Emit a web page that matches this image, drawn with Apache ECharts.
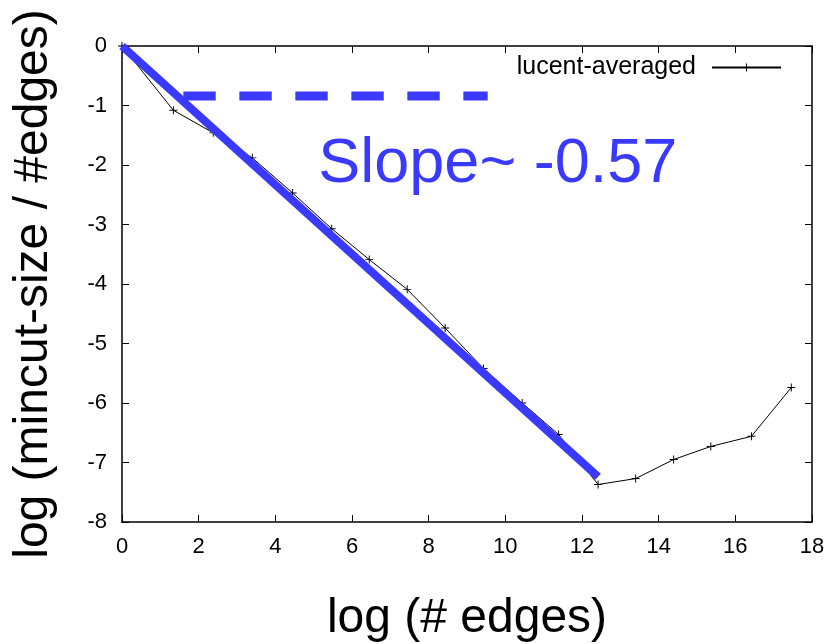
<!DOCTYPE html>
<html>
<head>
<meta charset="utf-8">
<script src="https://cdn.jsdelivr.net/npm/echarts@6/dist/echarts.min.js"></script>
<style>
  html, body { margin: 0; padding: 0; background: #ffffff; }
  #chart { width: 827px; height: 644px; }
</style>
</head>
<body>
<div id="chart"></div>
<script>
// log(# edges) vs log(mincut-size / #edges), averaged over the lucent graph
const edgesLog = [0, 1.34, 2.38, 3.40, 4.45, 5.47, 6.45, 7.44, 8.43, 9.43, 10.44, 11.39, 12.42, 13.40, 14.39, 15.36, 16.42, 17.46];
const ratioLog = [0, -1.08, -1.46, -1.88, -2.47, -3.07, -3.59, -4.09, -4.74, -5.42, -6.00, -6.53, -7.37, -7.27, -6.95, -6.73, -6.56, -5.74];

// fitted power-law line and the dashed reference bar above it
const fitX = [0, 12.42];
const fitY = [0, -7.24];
const refX = [1.60, 9.54];
const refY = [-0.84, -0.84];

// axis ticks
const xTicks = [0, 2, 4, 6, 8, 10, 12, 14, 16, 18];
const yTicks = [-8, -7, -6, -5, -4, -3, -2, -1, 0];

const seriesName = 'lucent-averaged';
const slopeText = 'Slope~ -0.57';
const slopeAnchor = [5.12, -1.99];

const BLUE = '#3a3aff';
const FONT = '"Liberation Sans", Arial, Helvetica, sans-serif';
const PLUS = 'path://M4.4,0h1.2v4.4h4.4v1.2h-4.4v4.4h-1.2v-4.4h-4.4v-1.2h4.4z';

const zip = (xs, ys) => xs.map((x, i) => [x, ys[i]]);

const axisLineStyle = { show: true, onZero: false, lineStyle: { color: '#000', width: 1.5 } };
const tickStyle = { show: true, inside: true, length: 7, lineStyle: { color: '#000', width: 1 } };

const xBase = {
  type: 'value',
  min: xTicks[0],
  max: xTicks[xTicks.length - 1],
  interval: xTicks[1] - xTicks[0],
  splitLine: { show: false },
  axisLine: axisLineStyle,
  axisTick: tickStyle
};
const yBase = {
  type: 'value',
  min: yTicks[0],
  max: yTicks[yTicks.length - 1],
  interval: yTicks[1] - yTicks[0],
  splitLine: { show: false },
  axisLine: axisLineStyle,
  axisTick: tickStyle
};

const chart = echarts.init(document.getElementById('chart'), null, { renderer: 'canvas' });

chart.setOption({
  animation: false,
  backgroundColor: '#ffffff',
  textStyle: { fontFamily: FONT },
  grid: { left: 122, right: 15, top: 46, bottom: 122, containLabel: false, outerBoundsMode: 'none' },
  legend: {
    data: [seriesName],
    right: 45,
    top: 55,
    padding: 0,
    align: 'right',
    itemWidth: 69,
    itemHeight: 10,
    textStyle: { fontFamily: FONT, fontSize: 25, color: '#000', padding: [0, 11, 0, 0] }
  },
  xAxis: [
    Object.assign({}, xBase, {
      position: 'bottom',
      axisLabel: { color: '#000', fontSize: 22, fontFamily: FONT, margin: 14 },
      name: 'log (# edges)',
      nameLocation: 'middle',
      nameGap: 73,
      nameTextStyle: { color: '#000', fontSize: 48, fontFamily: FONT }
    }),
    Object.assign({}, xBase, { position: 'top', axisLabel: { show: false } })
  ],
  yAxis: [
    Object.assign({}, yBase, {
      position: 'left',
      axisLabel: { color: '#000', fontSize: 22, fontFamily: FONT, margin: 15 },
      name: 'log (mincut-size / #edges)',
      nameLocation: 'middle',
      nameGap: 64,
      nameTextStyle: { color: '#000', fontSize: 48, fontFamily: FONT }
    }),
    Object.assign({}, yBase, { position: 'right', axisLabel: { show: false } })
  ],
  series: [
    {
      name: seriesName,
      type: 'line',
      data: zip(edgesLog, ratioLog),
      symbol: PLUS,
      symbolSize: 8,
      showAllSymbol: true,
      itemStyle: { color: '#000' },
      lineStyle: { color: '#000', width: 1 },
      z: 2
    },
    {
      name: 'fit',
      type: 'line',
      data: zip(fitX, fitY),
      symbol: 'none',
      lineStyle: { color: BLUE, width: 8, cap: 'butt' },
      silent: true,
      z: 3
    },
    {
      name: 'reference',
      type: 'line',
      data: zip(refX, refY),
      symbol: 'none',
      lineStyle: { color: BLUE, width: 9, type: [32.4, 23.6], cap: 'butt' },
      silent: true,
      z: 3
    },
    {
      name: 'slope-label',
      type: 'scatter',
      data: [slopeAnchor],
      symbolSize: 0,
      silent: true,
      itemStyle: { opacity: 1 },
      label: {
        show: true,
        position: 'right',
        distance: 0,
        formatter: slopeText,
        color: BLUE,
        opacity: 1,
        fontSize: 63,
        fontFamily: FONT
      },
      z: 4
    }
  ]
});
</script>
</body>
</html>
